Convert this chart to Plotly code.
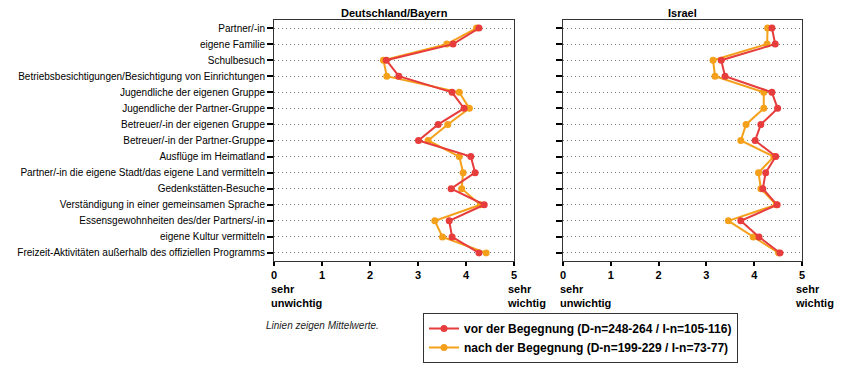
import plotly.graph_objects as go

categories = [
    "Partner/-in",
    "eigene Familie",
    "Schulbesuch",
    "Betriebsbesichtigungen/Besichtigung von Einrichtungen",
    "Jugendliche der eigenen Gruppe",
    "Jugendliche der Partner-Gruppe",
    "Betreuer/-in der eigenen Gruppe",
    "Betreuer/-in der Partner-Gruppe",
    "Ausflüge im Heimatland",
    "Partner/-in die eigene Stadt/das eigene Land vermitteln",
    "Gedenkstätten-Besuche",
    "Verständigung in einer gemeinsamen Sprache",
    "Essensgewohnheiten des/der Partners/-in",
    "eigene Kultur vermitteln",
    "Freizeit-Aktivitäten außerhalb des offiziellen Programms",
]

de_vor = [4.27, 3.73, 2.34, 2.60, 3.71, 3.96, 3.42, 3.01, 4.10, 4.19, 3.69, 4.38, 3.65, 3.71, 4.27]
de_nach = [4.22, 3.60, 2.28, 2.35, 3.86, 4.07, 3.62, 3.21, 3.86, 3.94, 3.91, 4.30, 3.35, 3.51, 4.42]
il_vor = [4.37, 4.44, 3.31, 3.39, 4.37, 4.49, 4.14, 4.02, 4.45, 4.24, 4.18, 4.48, 3.72, 4.10, 4.54]
il_nach = [4.28, 4.27, 3.14, 3.18, 4.20, 4.20, 3.83, 3.72, 4.41, 4.09, 4.14, 4.46, 3.46, 3.98, 4.51]

x_ticks = [0, 1, 2, 3, 4, 5]
panel_titles = ["Deutschland/Bayern", "Israel"]
legend_vor = "vor der Begegnung (D-n=248-264 / I-n=105-116)"
legend_nach = "nach der Begegnung (D-n=199-229 / I-n=73-77)"

RED = "#e63c3c"
ORANGE = "#f5a01a"
W, H = 842, 367
FONT = "Liberation Sans, Arial, sans-serif"

fig = go.Figure()

for xa, ya, vor, nach, show in [("x", "y", de_vor, de_nach, True), ("x2", "y2", il_vor, il_nach, False)]:
    fig.add_trace(go.Scatter(
        x=nach, y=categories, xaxis=xa, yaxis=ya, mode="lines+markers",
        name=legend_nach, legendrank=2, showlegend=show, legendgroup="nach",
        line=dict(color=ORANGE, width=2), marker=dict(color=ORANGE, size=7),
        cliponaxis=False,
    ))
    fig.add_trace(go.Scatter(
        x=vor, y=categories, xaxis=xa, yaxis=ya, mode="lines+markers",
        name=legend_vor, legendrank=1, showlegend=show, legendgroup="vor",
        line=dict(color=RED, width=2), marker=dict(color=RED, size=7),
        cliponaxis=False,
    ))

ydom = [(H - 261) / H, (H - 20) / H]
xdom1 = [274 / W, 514 / W]
xdom2 = [563 / W, 802 / W]

xcommon = dict(
    range=[0, 5], tickvals=x_ticks, ticks="outside", ticklen=4, tickwidth=2,
    tickcolor="#000", showline=True, linecolor="#333", linewidth=1, mirror=True,
    showgrid=False, zeroline=False, fixedrange=True, automargin=False,
    tickfont=dict(family=FONT, size=11, color="#000", weight="bold"),
)
ycommon = dict(
    type="category", categoryorder="array", categoryarray=categories,
    range=[14.5, -0.5], ticks="outside", ticklen=6, tickwidth=2, tickcolor="#000",
    showline=True, linecolor="#333", linewidth=1, mirror=True,
    showgrid=True, gridcolor="#777", griddash="1px,3px", gridwidth=1,
    zeroline=False, fixedrange=True, automargin=False,
    tickfont=dict(family=FONT, size=10, color="#000"),
)

fig.update_layout(
    width=W, height=H, margin=dict(l=0, r=0, t=0, b=0, autoexpand=False),
    plot_bgcolor="white", paper_bgcolor="white",
    xaxis=dict(domain=xdom1, anchor="y", **xcommon),
    xaxis2=dict(domain=xdom2, anchor="y2", **xcommon),
    yaxis=dict(domain=ydom, anchor="x", showticklabels=True, **ycommon),
    yaxis2=dict(domain=ydom, anchor="x2", showticklabels=False, **ycommon),
    showlegend=True,
    legend=dict(
        x=423 / W, y=1 - 313 / H, xanchor="left", yanchor="top",
        bordercolor="#333", borderwidth=1, bgcolor="white",
        font=dict(family=FONT, size=12, color="#000", weight="bold"),
        tracegroupgap=0, itemwidth=30,
    ),
)

annots = []
for title, xref, dom in [(panel_titles[0], "x", xdom1), (panel_titles[1], "x2", xdom2)]:
    annots.append(dict(
        text=title, xref="paper", yref="paper", x=(dom[0] + dom[1]) / 2, y=1 - 13 / H,
        xanchor="center", yanchor="middle", showarrow=False,
        font=dict(family=FONT, size=11, color="#000", weight="bold"),
    ))
    annots.append(dict(
        text="sehr<br>unwichtig", xref=xref, yref="paper", x=0, y=1 - 281 / H,
        xanchor="left", yanchor="top", xshift=-5, showarrow=False, align="left",
        font=dict(family=FONT, size=11, color="#000", weight="bold"),
    ))
    annots.append(dict(
        text="sehr<br>wichtig", xref=xref, yref="paper", x=5, y=1 - 281 / H,
        xanchor="left", yanchor="top", xshift=-9, showarrow=False, align="left",
        font=dict(family=FONT, size=11, color="#000", weight="bold"),
    ))
annots.append(dict(
    text="<i>Linien zeigen Mittelwerte.</i>", xref="paper", yref="paper",
    x=264 / W, y=1 - 325 / H, xanchor="left", yanchor="middle", showarrow=False,
    font=dict(family=FONT, size=10, color="#222"),
))
fig.update_layout(annotations=annots)

fig.write_html(
    "out.html",
    config={"displayModeBar": False, "staticPlot": True},
    post_script="document.body.style.margin='0';document.body.style.overflow='hidden';",
)
